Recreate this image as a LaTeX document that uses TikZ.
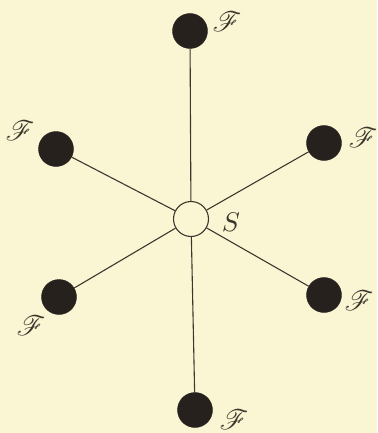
\documentclass[tikz,border=0pt]{standalone}
\usepackage{amsmath}
\usepackage{mathrsfs}
\usepackage{tikz}

\definecolor{paper}{RGB}{250,246,212}
\definecolor{bola}{RGB}{38,33,28}
\definecolor{tinta}{RGB}{60,55,45}

\tikzset{
  massa/.style={circle, fill=bola, draw=bola, minimum size=35pt, inner sep=0pt},
  centre/.style={circle, fill=paper, draw=tinta, line width=1.1pt, minimum size=35pt, inner sep=0pt},
  etiq/.style={text=tinta, inner sep=0pt},
  barra/.style={tinta, line width=1.1pt}
}
\newcommand{\lletraF}{\scalebox{2.8}{$\mathscr{F}$}}

\begin{document}
\begin{tikzpicture}[x=1pt, y=-1pt]
        % Fons
        \fill[paper] (0,0) rectangle (377,433);
        \useasboundingbox (0,0) rectangle (377,433);

        % Sol al centre
        \node[centre] (s) at (191,219) {};
        \node[etiq] (ls) at (231,222) {\scalebox{2.7}{$S$}};

        % Les sis masses
        \node[massa] (f1) at (190,31) {};
        \node[massa] (f2) at (324,143) {};
        \node[massa] (f3) at (324,295) {};
        \node[massa] (f4) at (195,410) {};
        \node[massa] (f5) at (59,297) {};
        \node[massa] (f6) at (56,149) {};

        % Barres
        \foreach \f in {f1,f2,f3,f4,f5,f6}
          \draw[barra] (s) -- (\f);

        % Etiquetes
        \node[etiq] (l1) at (227,22) {\lletraF};
        \node[etiq] (l2) at (363,138) {\lletraF};
        \node[etiq] (l3) at (359,301) {\lletraF};
        \node[etiq] (l4) at (234,420) {\lletraF};
        \node[etiq] (l5) at (31,326) {\lletraF};
        \node[etiq] (l6) at (20,131) {\lletraF};
    \end{tikzpicture}
\end{document}
